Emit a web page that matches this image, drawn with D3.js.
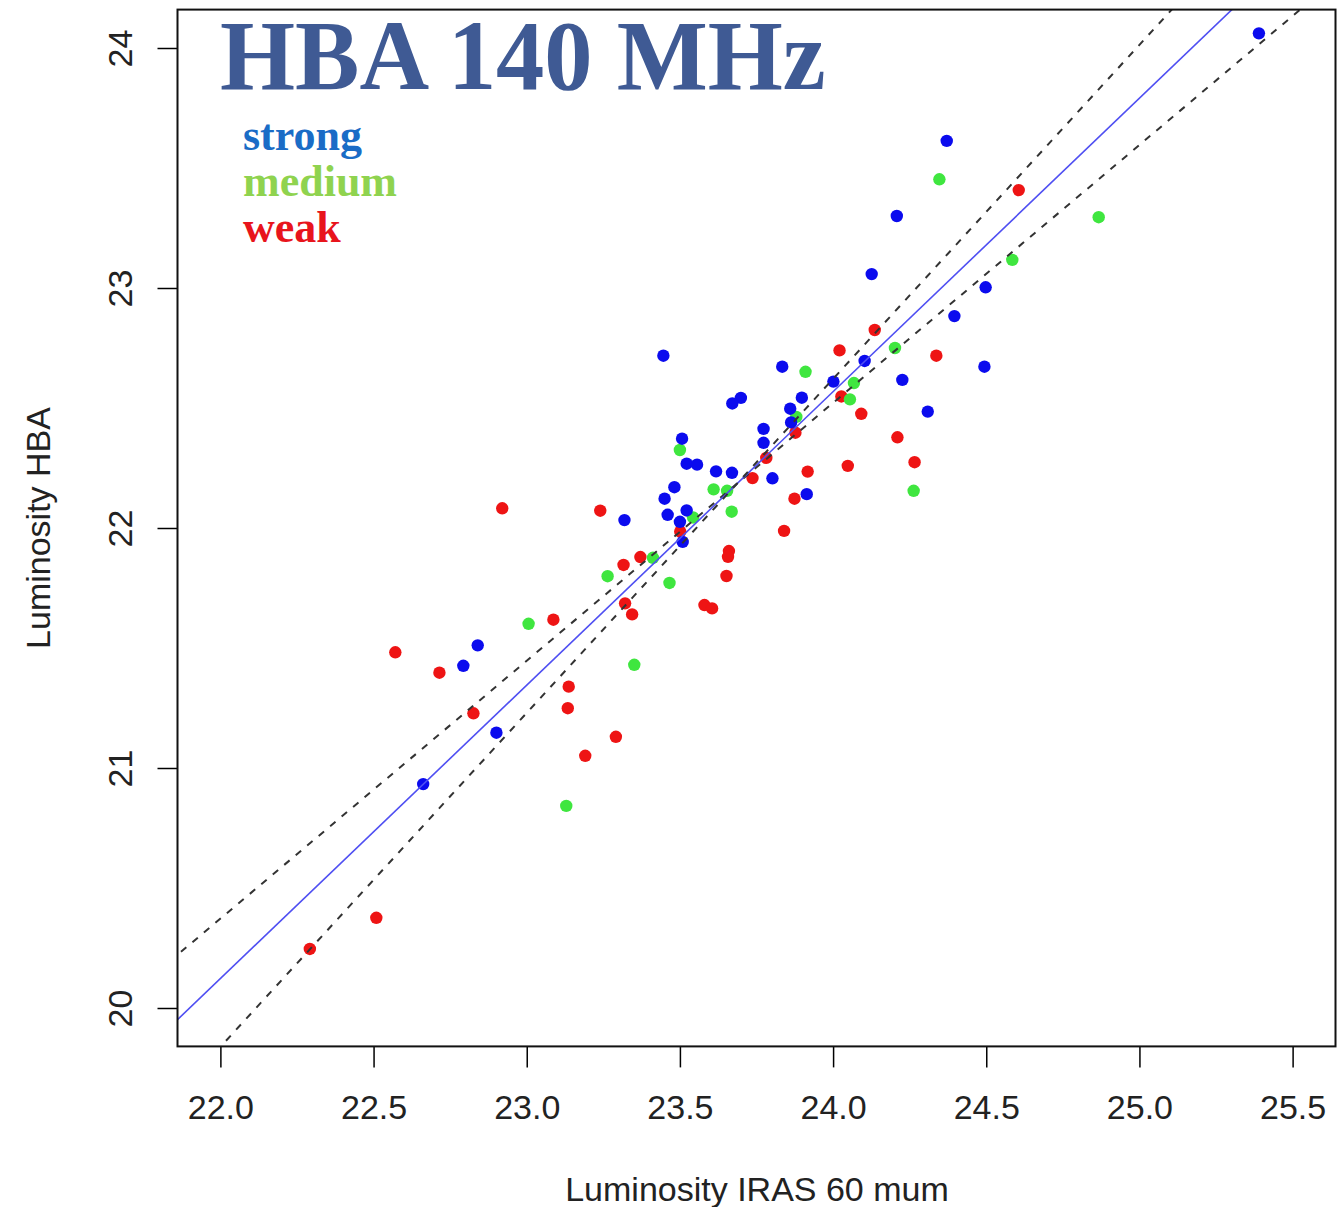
<!DOCTYPE html>
<html>
<head>
<meta charset="utf-8">
<script src="https://cdn.jsdelivr.net/npm/d3@7"></script>
<style>
  html, body { margin: 0; padding: 0; background: #ffffff; }
  svg { display: block; }
</style>
</head>
<body>
<svg id="chart" width="1339" height="1207"></svg>
<script>
// ---------------- data ----------------
const xTicks = [22.0, 22.5, 23.0, 23.5, 24.0, 24.5, 25.0, 25.5];
const yTicks = [20, 21, 22, 23, 24];
const xDomain = [21.86, 25.64];
const yDomain = [19.84, 24.16];

const titleText = "HBA 140 MHz";
const xTitle = "Luminosity IRAS 60 mum";
const yTitle = "Luminosity HBA";
const groups = ["weak", "medium", "strong"];
const legendLabels = ["strong", "medium", "weak"];

// strong (blue)
const strongX = [25.390, 24.371, 24.208, 24.126, 24.498, 24.396, 23.446, 24.103, 23.834, 24.494,
                 24.001, 24.226, 23.699, 23.671, 23.898, 23.860, 24.309, 23.863, 23.773, 23.773,
                 23.507, 23.522, 23.556, 23.618, 23.670, 23.802, 23.482, 23.450, 23.914, 23.319,
                 23.460, 23.522, 23.500, 23.509, 22.840, 22.793, 22.901, 22.662];
const strongY = [24.061, 23.613, 23.300, 23.058, 23.003, 22.883, 22.718, 22.696, 22.672, 22.672,
                 22.610, 22.617, 22.542, 22.519, 22.543, 22.497, 22.485, 22.440, 22.413, 22.355,
                 22.372, 22.268, 22.264, 22.236, 22.230, 22.207, 22.170, 22.122, 22.141, 22.033,
                 22.055, 22.073, 22.026, 21.942, 21.511, 21.426, 21.147, 20.933];
// medium (green)
const mediumX = [24.347, 24.867, 24.585, 24.202, 23.910, 24.068, 24.055, 23.880, 23.500, 23.610,
                 23.654, 24.263, 23.669, 23.543, 23.412, 23.264, 23.466, 23.006, 23.351, 23.129];
const mediumY = [23.453, 23.295, 23.117, 22.750, 22.651, 22.604, 22.536, 22.463, 22.325, 22.161,
                 22.155, 22.155, 22.068, 22.044, 21.876, 21.799, 21.771, 21.601, 21.430, 20.842];
// weak (red)
const weakX = [24.606, 24.136, 24.021, 24.337, 24.027, 24.092, 23.877, 24.210, 23.782, 24.266,
               24.048, 23.917, 23.737, 23.874, 22.920, 23.240, 23.501, 23.840, 23.660, 23.657,
               23.371, 23.316, 23.652, 23.321, 23.344, 23.580, 23.605, 23.087, 22.571, 22.715,
               23.137, 23.134, 22.826, 23.291, 23.191, 22.509, 22.292];
const weakY = [23.408, 22.825, 22.740, 22.718, 22.548, 22.476, 22.397, 22.378, 22.292, 22.274,
               22.259, 22.235, 22.208, 22.122, 22.082, 22.072, 21.985, 21.988, 21.904, 21.880,
               21.879, 21.846, 21.800, 21.686, 21.640, 21.679, 21.665, 21.618, 21.482, 21.397,
               21.339, 21.249, 21.228, 21.130, 21.051, 20.376, 20.246];

// fitted lines: all pass through the common centre point
const fitCentre = [23.685, 22.183];
const fitSlopes = [1.0746, 1.2227, 1.3917];      // OLS(Y|X), bisector, OLS(X|Y)
const fitKinds  = ["dashed", "solid", "dashed"];

// ---------------- styles ----------------
const pointColor = { strong: "#0b0bee", medium: "#3fe63f", weak: "#ee1414" };
const legendColor = { strong: "#1a6cc6", medium: "#8fd34f", weak: "#e8141c" };
const titleColor = "#3f5a94";

// ---------------- drawing ----------------
const svg = d3.select("#chart");
const W = 1339, H = 1207;
svg.append("rect").attr("width", W).attr("height", H).attr("fill", "#fff");

const x = d3.scaleLinear().domain(xDomain).range([177.5, 1335.5]);
const y = d3.scaleLinear().domain(yDomain).range([1046.4, 9.6]);

const sansFont = "'Liberation Sans', Arial, Helvetica, sans-serif";
const serifFont = "'Liberation Serif', 'Times New Roman', Times, serif";

svg.append("clipPath").attr("id", "plotclip")
  .append("rect")
  .attr("x", x(xDomain[0])).attr("y", y(yDomain[1]))
  .attr("width", x(xDomain[1]) - x(xDomain[0]))
  .attr("height", y(yDomain[0]) - y(yDomain[1]));

// points: weak first, then medium, then strong on top
const seriesData = {
  weak: weakX.map((v, i) => ({ x: v, y: weakY[i] })),
  medium: mediumX.map((v, i) => ({ x: v, y: mediumY[i] })),
  strong: strongX.map((v, i) => ({ x: v, y: strongY[i] }))
};
const pts = svg.append("g").attr("clip-path", "url(#plotclip)");
groups.forEach(g => {
  pts.append("g").selectAll("circle")
    .data(seriesData[g])
    .join("circle")
    .attr("cx", d => x(d.x))
    .attr("cy", d => y(d.y))
    .attr("r", 6.2)
    .attr("fill", pointColor[g]);
});

// fitted lines
const lines = svg.append("g").attr("clip-path", "url(#plotclip)");
const lineGen = d3.line().x(d => x(d[0])).y(d => y(d[1]));
fitSlopes.forEach((b, i) => {
  const xs = [xDomain[0] - 1, xDomain[1] + 1];
  const seg = xs.map(xv => [xv, fitCentre[1] + b * (xv - fitCentre[0])]);
  const p = lines.append("path").attr("d", lineGen(seg)).attr("fill", "none");
  if (fitKinds[i] === "solid") {
    p.attr("stroke", "#4f4ff2").attr("stroke-width", 1.6);
  } else {
    p.attr("stroke", "#333333").attr("stroke-width", 2).attr("stroke-dasharray", "7,8");
  }
});

// axes
const xAxis = d3.axisBottom(x).tickValues(xTicks).tickFormat(d3.format(".1f"))
  .tickSize(21).tickSizeOuter(0);
const gx = svg.append("g").attr("transform", `translate(0,${y(yDomain[0])})`).call(xAxis);
gx.select(".domain").remove();
gx.selectAll(".tick line").attr("stroke", "#000").attr("stroke-width", 1.5);
gx.selectAll(".tick text")
  .attr("y", 73).attr("dy", 0)
  .attr("fill", "#222")
  .style("font-family", sansFont).style("font-size", "34px");

const yAxis = d3.axisLeft(y).tickValues(yTicks).tickFormat(d3.format("d"))
  .tickSize(20).tickSizeOuter(0);
const gy = svg.append("g").attr("transform", `translate(${x(xDomain[0])},0)`).call(yAxis);
gy.select(".domain").remove();
gy.selectAll(".tick line").attr("stroke", "#000").attr("stroke-width", 1.5);
gy.selectAll(".tick text")
  .attr("x", 0).attr("y", 0).attr("dy", 0)
  .attr("transform", "translate(-46,0) rotate(-90)")
  .attr("text-anchor", "middle")
  .attr("fill", "#222")
  .style("font-family", sansFont).style("font-size", "34px");

// box
svg.append("rect")
  .attr("x", x(xDomain[0])).attr("y", y(yDomain[1]))
  .attr("width", x(xDomain[1]) - x(xDomain[0]))
  .attr("height", y(yDomain[0]) - y(yDomain[1]))
  .attr("fill", "none").attr("stroke", "#111").attr("stroke-width", 2);

// axis titles
svg.append("text")
  .attr("x", 757).attr("y", 1201)
  .attr("text-anchor", "middle")
  .attr("fill", "#222")
  .style("font-family", sansFont).style("font-size", "34px")
  .text(xTitle);
svg.append("text")
  .attr("transform", "translate(50,528) rotate(-90)")
  .attr("text-anchor", "middle")
  .attr("fill", "#222")
  .style("font-family", sansFont).style("font-size", "34px")
  .text(yTitle);

// title
svg.append("text")
  .attr("transform", "translate(220,89) scale(1,1.02)")
  .attr("fill", titleColor)
  .style("font-family", serifFont).style("font-weight", "bold").style("font-size", "96.5px")
  .text(titleText);

// legend labels
legendLabels.forEach((lab, i) => {
  svg.append("text")
    .attr("transform", `translate(243,${150 + i * 46})`)
    .attr("fill", legendColor[lab])
    .style("font-family", serifFont).style("font-weight", "bold").style("font-size", "44px")
    .text(lab);
});
</script>
</body>
</html>
